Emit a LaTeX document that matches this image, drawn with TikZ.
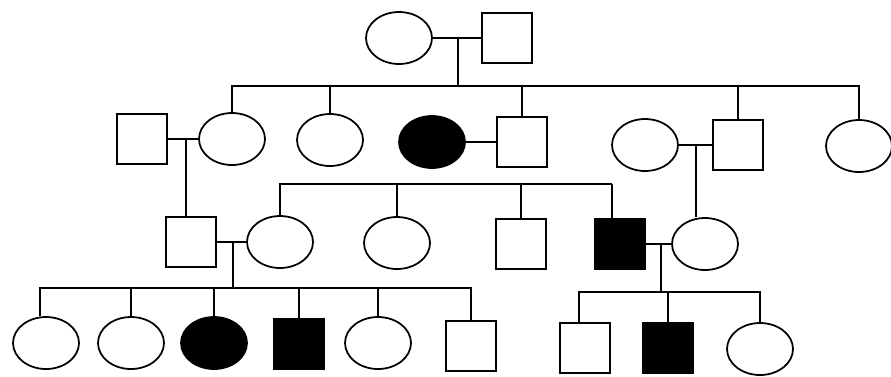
\documentclass[tikz,border=0pt]{standalone}
\usetikzlibrary{shapes.geometric}
\begin{document}
\begin{tikzpicture}[
        x=0.02cm, y=-0.02cm,
        female/.style={draw, ellipse, inner sep=0pt, minimum width=1.32cm, minimum height=1.04cm, line width=1pt},
        male/.style={draw, rectangle, inner sep=0pt, minimum size=1cm, line width=1pt},
        affected/.style={fill=black},
        rel/.style={line width=1pt}
    ]
        \useasboundingbox (0,0) rectangle (891,376);

        % generation I
        \node[female] (gmother) at (399,38) {};
        \node[male] (gfather) at (507,38) {};

        % generation II
        \node[male] (uncleA) at (142,139) {};
        \node[female] (auntA) at (232,139) {};
        \node[female] (auntB) at (330,140) {};
        \node[female, affected] (wifeC) at (432,142) {};
        \node[male] (sonC) at (522,142) {};
        \node[female] (wifeD) at (645,145) {};
        \node[male] (sonD) at (738,145) {};
        \node[female] (auntE) at (859,146) {};

        % generation III
        \node[male] (father) at (191,242) {};
        \node[female] (mother) at (280,242) {};
        \node[female] (cousinB) at (397,243) {};
        \node[male] (cousinC) at (521,244) {};
        \node[male, affected] (cousinD) at (620,244) {};
        \node[female] (wifeE) at (705,244) {};

        % generation IV
        \node[female] (childA) at (46,343) {};
        \node[female] (childB) at (131,343) {};
        \node[female, affected] (childC) at (214,343) {};
        \node[male, affected] (childD) at (299,344) {};
        \node[female] (childE) at (378,343) {};
        \node[male] (childF) at (471,346) {};
        \node[male] (childG) at (585,348) {};
        \node[male, affected] (childH) at (668,348) {};
        \node[female] (childI) at (760,349) {};

        % junctions
        \coordinate (mar1) at (458,38);
        \coordinate (sib1) at (458,86);
        \coordinate (mar2) at (186,139);
        \coordinate (mar4) at (696,145);
        \coordinate (sib3) at (612,184);
        \coordinate (mar5) at (233,242);
        \coordinate (sib5) at (233,288);
        \coordinate (mar6) at (661,244);
        \coordinate (sib6) at (661,292);

        % marriages
        \draw[rel] (gmother) -- (gfather);
        \draw[rel] (uncleA) -- (auntA);
        \draw[rel] (wifeC) -- (sonC);
        \draw[rel] (wifeD) -- (sonD);
        \draw[rel] (father) -- (mother);
        \draw[rel] (cousinD) -- (wifeE);

        % descent
        \draw[rel] (mar1) -- (sib1);
        \draw[rel] (auntA.north) |- (sib1);
        \draw[rel] (auntB.north) |- (sib1);
        \draw[rel] (sonC.north) |- (sib1);
        \draw[rel] (sonD.north) |- (sib1);
        \draw[rel] (auntE.north) |- (sib1);

        \draw[rel] (mar2) -- (mar2 |- father.north);
        \draw[rel] (mar4) -- (mar4 |- wifeE.north);

        \draw[rel] (mother.north) |- (sib3);
        \draw[rel] (cousinB.north) |- (sib3);
        \draw[rel] (cousinC.north) |- (sib3);
        \draw[rel] (sib3) -- (sib3 |- cousinD.north);

        \draw[rel] (mar5) -- (sib5);
        \draw[rel] ([xshift=-0.12cm]childA.north) |- (sib5);
        \draw[rel] (childB.north) |- (sib5);
        \draw[rel] (childC.north) |- (sib5);
        \draw[rel] (childD.north) |- (sib5);
        \draw[rel] (childE.north) |- (sib5);
        \draw[rel] (childF.north) |- (sib5);

        \draw[rel] (mar6) -- (sib6);
        \draw[rel] ([xshift=-0.12cm]childG.north) |- (sib6);
        \draw[rel] (childH.north) |- (sib6);
        \draw[rel] (childI.north) |- (sib6);
    \end{tikzpicture}
\end{document}
